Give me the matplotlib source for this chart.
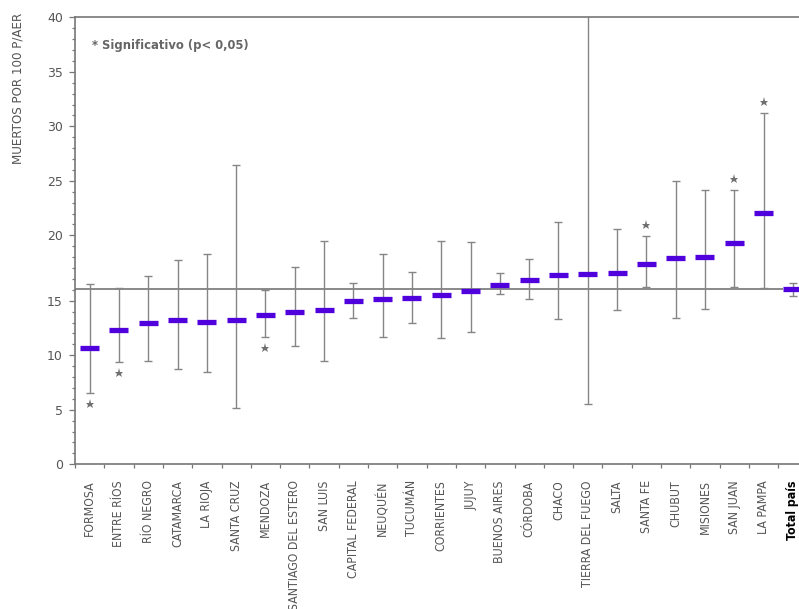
import numpy as np
import matplotlib
matplotlib.use("Agg")
import matplotlib.pyplot as plt
import matplotlib.transforms as mtransforms
from matplotlib import font_manager as fm

# ---------------- data ----------------
provinces = ["FORMOSA", "ENTRE RÍOS", "RÍO NEGRO", "CATAMARCA", "LA RIOJA", "SANTA CRUZ",
             "MENDOZA", "SANTIAGO DEL ESTERO", "SAN LUIS", "CAPITAL FEDERAL", "NEUQUÉN",
             "TUCUMÁN", "CORRIENTES", "JUJUY", "BUENOS AIRES", "CÓRDOBA", "CHACO",
             "TIERRA DEL FUEGO", "SALTA", "SANTA FE", "CHUBUT", "MISIONES", "SAN JUAN",
             "LA PAMPA", "Total país"]
rate = [10.69, 12.34, 12.92, 13.20, 13.05, 13.20, 13.66, 14.00, 14.18, 15.01, 15.16,
        15.23, 15.47, 15.78, 16.23, 16.62, 16.98, 17.08, 17.15, 17.84, 18.30, 18.38,
        19.45, 22.07, 15.93]
ci_low = [6.53, 9.37, 9.49, 8.73, 8.48, 5.20, 11.70, 10.85, 9.52, 13.45, 11.70,
          12.99, 11.61, 12.10, 15.49, 15.11, 13.33, 5.57, 14.12, 16.06, 13.42, 14.21,
          16.06, 15.98, 15.39]
ci_high = [16.26, 15.95, 16.87, 18.15, 18.58, 26.44, 15.83, 17.56, 19.55, 16.37, 18.58,
           17.23, 19.55, 19.48, 17.10, 18.20, 21.20, 45.00, 20.56, 19.97, 24.97, 24.20,
           24.15, 31.22, 16.37]
# -1: significantly lower, +1: significantly higher, 0: not significant
significant = [-1, -1, 0, 0, 0, 0, -1, 0, 0, 0, 0, 0, 0, 0, 0, 0, 0, 0, 0, 1, 0, 0, 1, 1, 0]
y_ticks = [0, 5, 10, 15, 20, 25, 30, 35, 40]
y_label = "MUERTOS POR 100 P/AER"
note = "* Significativo (p< 0,05)"

# ---------------- fonts: look for a narrow / condensed sans ----------------
def find_condensed(bold=False):
    best = None
    for f in fm.fontManager.ttflist:
        nm = f.name.lower()
        fn = f.fname.lower()
        is_cond = (f.stretch in ("condensed", "semi-condensed", "extra-condensed")
                   or "narrow" in nm or "condensed" in nm or "condensed" in fn or "narrow" in fn)
        if not is_cond or "mono" in nm or "serif" in nm or f.style != "normal":
            continue
        w = f.weight if isinstance(f.weight, int) else (700 if "bold" in str(f.weight) else 400)
        if bold != (w >= 600):
            continue
        if "liberation sans narrow" in nm:
            score = 3
        elif "dejavu" in nm:
            score = 2
        else:
            score = 1
        if best is None or score > best[0]:
            best = (score, f.fname)
    return best[1] if best else None

cond_reg = find_condensed(False)
cond_bold = find_condensed(True)
if cond_reg:
    lab_fp = dict(fontproperties=fm.FontProperties(fname=cond_reg, size=8.8))
    ylab_fp = dict(fontproperties=fm.FontProperties(fname=cond_reg, size=9.5))
else:
    lab_fp = dict(family="Roboto", fontsize=8.3)
    ylab_fp = dict(family="Roboto", fontsize=8.8)
if cond_bold:
    note_fp = dict(fontproperties=fm.FontProperties(fname=cond_bold, size=9.3))
    total_fp = fm.FontProperties(fname=cond_bold, size=8.8)
else:
    note_fp = dict(family="Roboto", fontsize=8.8, fontweight="bold")
    total_fp = fm.FontProperties(family="Roboto", size=8.3, weight="bold")

gray_txt = "#555555"
bar_col = "#4f00dc"
err_col = "#858585"

fig = plt.figure(figsize=(7.99, 6.09), dpi=100)
W, H = 799, 609
left_px, right_px = 75, 807.5
top_px, bot_px = 17.3, 464.3
ax = fig.add_axes([left_px / W, 1 - bot_px / H, (right_px - left_px) / W, (bot_px - top_px) / H])

# the original axis has an extra unit between 15 and 20
def fwd(v):
    v = np.asarray(v, dtype=float)
    return np.where(v <= 15, v, np.where(v <= 20, 15 + (v - 15) * 1.2, v + 1))

def inv(p):
    p = np.asarray(p, dtype=float)
    return np.where(p <= 15, p, np.where(p <= 21, 15 + (p - 15) / 1.2, p - 1))

ax.set_yscale("function", functions=(fwd, inv))

n = len(provinces)
x = np.arange(n)
rate_a = np.array(rate)
lo_a = np.array(ci_low)
hi_a = np.array(ci_high)

ax.errorbar(x, rate_a, yerr=[rate_a - lo_a, hi_a - rate_a], fmt="none",
            ecolor=err_col, elinewidth=1.0, capsize=2.6, capthick=1.0, zorder=2)

# reference line at national value
ax.hlines(rate[-1], -0.5, n - 1.34, color="#6a6a6a", lw=1.1, zorder=1)

# point estimates as short thick bars
ax.hlines(rate_a, x - 0.325, x + 0.325, color=bar_col, lw=3.8, zorder=3)

# significance stars
sig = np.array(significant)
off = 11 / 100.0
t_up = ax.transData + mtransforms.ScaledTranslation(0, off, fig.dpi_scale_trans)
t_dn = ax.transData + mtransforms.ScaledTranslation(0, -off, fig.dpi_scale_trans)
up = sig > 0
dn = sig < 0
ax.plot(x[up], hi_a[up], ls="none", marker="*", ms=6.5, color="#707070", mew=0, transform=t_up, clip_on=False)
ax.plot(x[dn], lo_a[dn], ls="none", marker="*", ms=6.5, color="#707070", mew=0, transform=t_dn, clip_on=False)

ax.set_xlim(-0.5, n - 0.5)
ax.set_ylim(0, 40)

# y ticks
ax.set_yticks(y_ticks)
ax.set_yticklabels([str(t) for t in y_ticks])
ax.set_yticks(inv(np.arange(0, 42)), minor=True)
ax.tick_params(axis="y", which="major", length=6.5 * 0.72, width=0.9, color="#777777",
               labelsize=9, labelcolor=gray_txt, pad=4)
ax.tick_params(axis="y", which="minor", length=3.5 * 0.72, width=0.9, color="#777777")

# x ticks: marks at boundaries, labels at centres
ax.set_xticks(x)
ax.set_xticklabels(provinces, rotation=90, ha="center", va="top", color=gray_txt, **lab_fp)
last = ax.get_xticklabels()[-1]
last.set_fontproperties(total_fp)
last.set_color("black")
ax.set_xticks(np.arange(-0.5, n), minor=True)
ax.tick_params(axis="x", which="major", length=0, pad=11.5)
ax.tick_params(axis="x", which="minor", length=3.5 * 0.72, width=0.9, color="#777777")

for s in ["left", "bottom", "top"]:
    ax.spines[s].set_color("#777777")
    ax.spines[s].set_linewidth(1.2)
ax.spines["right"].set_visible(False)

fig.text(18.5 / W, 1 - 88 / H, y_label, rotation=90, ha="center", va="center",
         color=gray_txt, **ylab_fp)
fig.text(92 / W, 1 - 45 / H, note, ha="left", va="center", color="#666666", **note_fp)

fig.savefig("out.png", dpi=100)
